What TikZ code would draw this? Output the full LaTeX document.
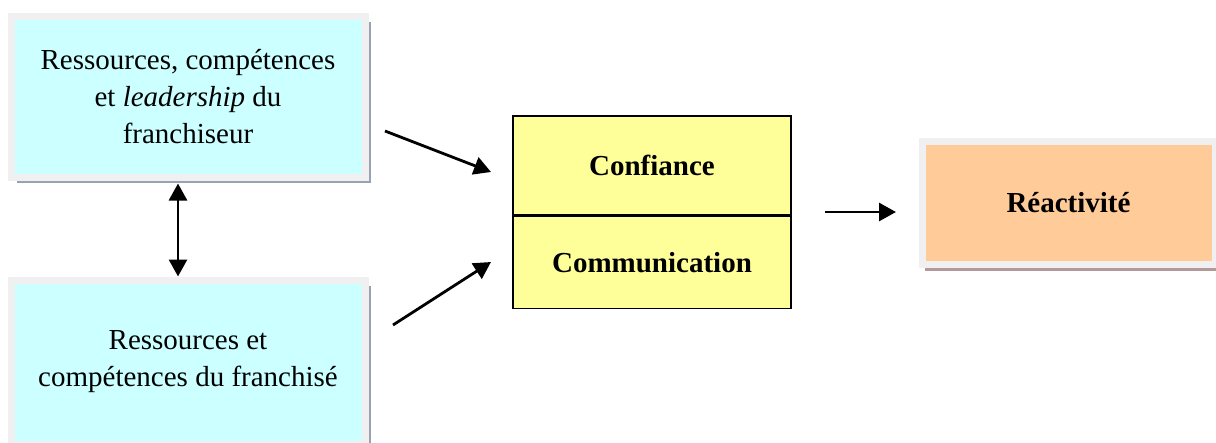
\documentclass[tikz,border=0pt]{standalone}
\usepackage{fontspec}
\setmainfont{Liberation Serif}
\usetikzlibrary{arrows.meta,shadows}

\definecolor{cyanbox}{HTML}{CCFFFF}
\definecolor{yellowbox}{HTML}{FFFF99}
\definecolor{orangebox}{HTML}{FFCC99}
\definecolor{frame}{HTML}{F0F0F0}
\definecolor{slate}{HTML}{98A2B3}
\definecolor{mauve}{HTML}{B39A9A}

\tikzset{
  txt/.style={font=\fontsize{29}{37}\selectfont},
  res/.style={rectangle, fill=cyanbox, draw=frame, line width=7pt, txt,
    minimum width=354pt, align=center, inner sep=0pt,
    drop shadow={shadow xshift=6pt, shadow yshift=-6pt, fill=slate, opacity=1}},
  facteur/.style={rectangle, fill=yellowbox, draw=black, line width=1.5pt,
    minimum width=278pt, inner sep=0pt, font=\fontsize{29}{37}\selectfont\bfseries},
  arr/.style={-{Triangle[length=17pt,width=18pt]}, line width=2.8pt},
  arr2/.style={{Triangle[length=17pt,width=18pt]}-{Triangle[length=17pt,width=18pt]}, line width=2.8pt},
}

\begin{document}
\begin{tikzpicture}[x=1pt,y=-1pt]
    \useasboundingbox (0,0) rectangle (1216,442);
    % ressources des deux partenaires
    \node[res, minimum height=161pt] (fr) at (188,96.5) {Ressources, comp\'etences\\ et \textit{leadership} du\\ franchiseur};
    \node[res, minimum height=164pt] (fe) at (188,362) {Ressources et\\ comp\'etences du franchis\'e};
    % confiance / communication
    \node[facteur, minimum height=99pt] (conf) at (652,165.5) {Confiance};
    \node[facteur, minimum height=92pt, anchor=north] (comm) at (conf.south) {Communication};
    % resultat
    \node[rectangle, fill=orangebox, draw=frame, line width=7pt, minimum width=293pt,
      minimum height=123pt, font=\fontsize{29}{37}\selectfont\bfseries,
      drop shadow={shadow xshift=3pt, shadow yshift=-7pt, fill=mauve, opacity=1}]
      (reac) at (1068.5,202.5) {R\'eactivit\'e};
    % fleches
    \coordinate (a1) at (385,131);
    \coordinate (b1) at (491,172);
    \coordinate (a2) at (393,325);
    \coordinate (b2) at (491,262);
    \coordinate (a3) at (825,212);
    \coordinate (b3) at (896,212);
    \draw[arr] (a1) -- (b1);
    \draw[arr] (a2) -- (b2);
    \draw[arr] (a3) -- (b3);
    \draw[arr2, shorten <=3pt] ([xshift=-10pt]fr.south) -- ([xshift=-10pt]fe.north);
\end{tikzpicture}
\end{document}
